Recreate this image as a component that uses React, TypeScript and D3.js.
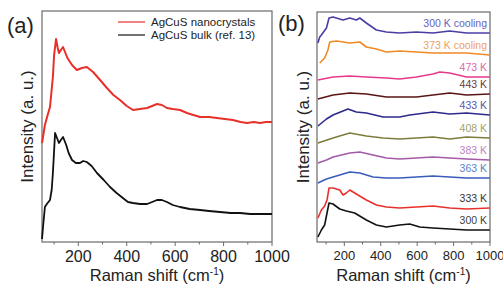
import React, { useRef, useEffect } from "react";
import * as d3 from "d3";

// panel (a): Raman shift (cm-1) vs intensity (a. u.)
const nanoA = [
  [50, 99], [62, 117], [71, 125], [83, 135], [95, 165], [100, 187], [108, 203], [115, 194],
  [120, 189], [128, 192], [137, 195], [145, 190], [155, 184], [174, 177], [194, 172], [215, 174],
  [235, 175], [261, 170], [290, 162], [318, 154], [345, 147], [372, 142], [400, 136], [426, 132],
  [455, 133], [484, 134], [505, 136], [525, 138], [545, 137], [566, 134], [590, 133], [620, 132],
  [649, 129], [675, 127], [703, 125], [740, 125], [773, 124], [805, 123], [839, 122], [870, 120],
  [897, 119], [925, 120], [950, 119], [975, 120], [1000, 120],
];
const bulkA = [
  [50, 3], [55, 17], [62, 35], [70, 38], [83, 42], [90, 52], [95, 69], [104, 109], [112, 104],
  [120, 99], [128, 102], [137, 105], [150, 97], [160, 89], [174, 82], [190, 79], [207, 79],
  [220, 81], [235, 80], [255, 76], [277, 69], [305, 62], [331, 55], [358, 49], [384, 44],
  [405, 40], [426, 39], [455, 38], [484, 38], [505, 40], [525, 42], [545, 42], [566, 40],
  [590, 37], [620, 35], [660, 33], [703, 32], [740, 31], [785, 30], [830, 29], [868, 29],
  [910, 28], [950, 28], [1000, 28],
];
const legendA = ["AgCuS nanocrystals", "AgCuS bulk (ref. 13)"];

// panel (b): temperature series, top to bottom
const cool300 = [[55, 199], [65, 205], [74, 207], [102, 214], [116, 224], [138, 225], [193, 222], [230, 224], [266, 222], [285, 224], [321, 219], [376, 212], [431, 210], [504, 209], [596, 210], [687, 209], [779, 211], [871, 209], [999, 209]];
const cool373 = [[65, 179], [92, 184], [110, 192], [120, 200], [157, 201], [230, 199], [285, 200], [321, 195], [376, 193], [431, 190], [504, 191], [596, 190], [687, 189], [779, 189], [871, 189], [999, 187]];
const t473 = [[55, 162], [138, 165], [230, 166], [321, 165], [431, 164], [504, 163], [596, 165], [687, 168], [724, 170], [779, 169], [871, 165], [999, 165]];
const t443 = [[55, 143], [138, 147], [230, 149], [321, 148], [431, 145], [504, 145], [596, 145], [687, 147], [779, 149], [871, 147], [999, 148]];
const t433 = [[55, 116], [102, 123], [138, 127], [220, 133], [266, 130], [321, 129], [413, 125], [504, 125], [559, 127], [687, 130], [779, 128], [871, 129], [999, 127]];
const t408 = [[55, 99], [138, 104], [230, 109], [321, 106], [413, 104], [504, 103], [687, 105], [779, 103], [871, 105], [999, 104]];
const t383 = [[55, 79], [102, 82], [138, 85], [230, 89], [285, 90], [358, 87], [431, 84], [504, 83], [596, 84], [687, 85], [779, 84], [871, 83], [999, 82]];
const t363 = [[55, 59], [102, 63], [138, 65], [230, 70], [285, 69], [358, 65], [431, 64], [504, 64], [596, 65], [687, 66], [779, 65], [871, 64], [999, 64]];
const t333 = [[55, 24], [74, 32], [92, 36], [105, 42], [116, 54], [138, 54], [175, 52], [193, 47], [211, 49], [230, 52], [257, 49], [321, 42], [376, 37], [431, 35], [504, 34], [596, 35], [687, 36], [779, 34], [871, 33], [999, 34]];
const t300 = [[55, 5], [74, 12], [92, 17], [105, 29], [116, 39], [138, 38], [175, 33], [211, 31], [257, 29], [321, 22], [376, 17], [431, 15], [504, 17], [559, 18], [614, 15], [687, 14], [779, 13], [871, 12], [999, 12]];

const seriesB = [
  { label: "300 K cooling", data: cool300, color: "#4a3ea6", text: "#6a62b8" },
  { label: "373 K cooling", data: cool373, color: "#f08a24", text: "#f0a060" },
  { label: "473 K", data: t473, color: "#e63a8c", text: "#e066a6" },
  { label: "443 K", data: t443, color: "#5a1616", text: "#6a3a3a" },
  { label: "433 K", data: t433, color: "#2c2a8c", text: "#5656a8" },
  { label: "408 K", data: t408, color: "#7e7c3c", text: "#a2a266" },
  { label: "383 K", data: t383, color: "#a45aa6", text: "#c084c2" },
  { label: "363 K", data: t363, color: "#3a5cba", text: "#5a82c8" },
  { label: "333 K", data: t333, color: "#e8302c", text: "#333333" },
  { label: "300 K", data: t300, color: "#111111", text: "#444444" },
];

const xTicks = [200, 400, 600, 800, 1000];
const xMinor = [100, 300, 500, 700, 900];

const FONT = "'Liberation Sans', Arial, sans-serif";

const App = () => {
  const svgRef = useRef();

  useEffect(() => {
    const svg = d3.select(svgRef.current);
    svg.selectAll("*").remove();

    const drawFrame = (g, x, y, big) => {
      const [x0, x1] = x.range();
      const [y0, y1] = y.range();
      g.append("rect")
        .attr("x", x0).attr("y", y1)
        .attr("width", x1 - x0).attr("height", y0 - y1)
        .attr("fill", "none").attr("stroke", "#6a6a6a").attr("stroke-width", 1.2);

      g.selectAll(".major").data(xTicks).enter().append("line")
        .attr("x1", d => x(d)).attr("x2", d => x(d))
        .attr("y1", y0).attr("y2", y0 + 4)
        .attr("stroke", "#6a6a6a");
      g.selectAll(".minor").data(xMinor).enter().append("line")
        .attr("x1", d => x(d)).attr("x2", d => x(d))
        .attr("y1", y0).attr("y2", y0 + 2.5)
        .attr("stroke", "#6a6a6a");

      g.selectAll(".tl").data(xTicks).enter().append("text")
        .attr("x", d => x(d)).attr("y", big ? 262 : 260)
        .attr("text-anchor", "middle")
        .attr("font-size", big ? 16 : 13)
        .attr("fill", "#222")
        .text(d => d);

      const title = g.append("text")
        .attr("x", (x0 + x1) / 2).attr("y", 281)
        .attr("text-anchor", "middle")
        .attr("font-size", 16.5)
        .attr("fill", "#222");
      title.append("tspan").text("Raman shift (cm");
      title.append("tspan").attr("font-size", 10).attr("dy", -6).text("-1");
      title.append("tspan").attr("dy", 6).text(")");
    };

    const root = svg.append("g").attr("font-family", FONT);

    // ---------- panel (a)
    const xa = d3.scaleLinear().domain([50, 1000]).range([42, 272]);
    const ya = d3.scaleLinear().domain([0, 231]).range([242, 11]);
    const ga = root.append("g");
    drawFrame(ga, xa, ya, true);

    const lineA = d3.line().x(d => xa(d[0])).y(d => ya(d[1]));
    ga.append("path").datum(bulkA)
      .attr("fill", "none").attr("stroke", "#111").attr("stroke-width", 1.8)
      .attr("stroke-linejoin", "round").attr("d", lineA);
    ga.append("path").datum(nanoA)
      .attr("fill", "none").attr("stroke", "#e8302a").attr("stroke-width", 2)
      .attr("stroke-linejoin", "round").attr("d", lineA);

    const legColors = ["#e8302a", "#111"];
    const leg = ga.selectAll(".leg").data(legendA).enter().append("g")
      .attr("transform", (d, i) => `translate(118, ${22 + i * 13})`);
    leg.append("line").attr("x1", 0).attr("x2", 27)
      .attr("stroke", (d, i) => legColors[i]).attr("stroke-width", 1.2);
    leg.append("text").attr("x", 33).attr("y", 4)
      .attr("font-size", 11.5).attr("fill", "#222").text(d => d);

    ga.append("text").attr("x", 7).attr("y", 33)
      .attr("font-size", 22).attr("fill", "#222").text("(a)");
    ga.append("text")
      .attr("transform", `translate(33, ${(11 + 242) / 2}) rotate(-90)`)
      .attr("text-anchor", "middle").attr("font-size", 17).attr("fill", "#222")
      .text("Intensity (a. u.)");

    // ---------- panel (b)
    const xb = d3.scaleLinear().domain([50, 1000]).range([317, 490]);
    const yb = d3.scaleLinear().domain([0, 230]).range([242, 12]);
    const gb = root.append("g");
    drawFrame(gb, xb, yb, false);

    const lineB = d3.line().x(d => xb(d[0])).y(d => yb(d[1]));
    seriesB.slice().reverse().forEach(s => {
      gb.append("path").datum(s.data)
        .attr("fill", "none").attr("stroke", s.color).attr("stroke-width", 1.6)
        .attr("stroke-linejoin", "round").attr("d", lineB);
    });

    gb.selectAll(".lab").data(seriesB).enter().append("text")
      .attr("x", xb(1000) - 3)
      .attr("y", d => yb(d.data[d.data.length - 1][1]) - 6.5)
      .attr("text-anchor", "end")
      .attr("font-size", 10.5)
      .attr("fill", d => d.text)
      .text(d => d.label);

    gb.append("text").attr("x", 278).attr("y", 31)
      .attr("font-size", 22).attr("fill", "#222").text("(b)");
    gb.append("text")
      .attr("transform", `translate(309, ${(12 + 242) / 2}) rotate(-90)`)
      .attr("text-anchor", "middle").attr("font-size", 17).attr("fill", "#222")
      .text("Intensity (a. u.)");
  }, []);

  return (
    <div style={{ position: "absolute", left: 0, top: 0, width: 503, height: 285, background: "#fff" }}>
      <svg ref={svgRef} width={503} height={285}></svg>
    </div>
  );
};

export default App;
